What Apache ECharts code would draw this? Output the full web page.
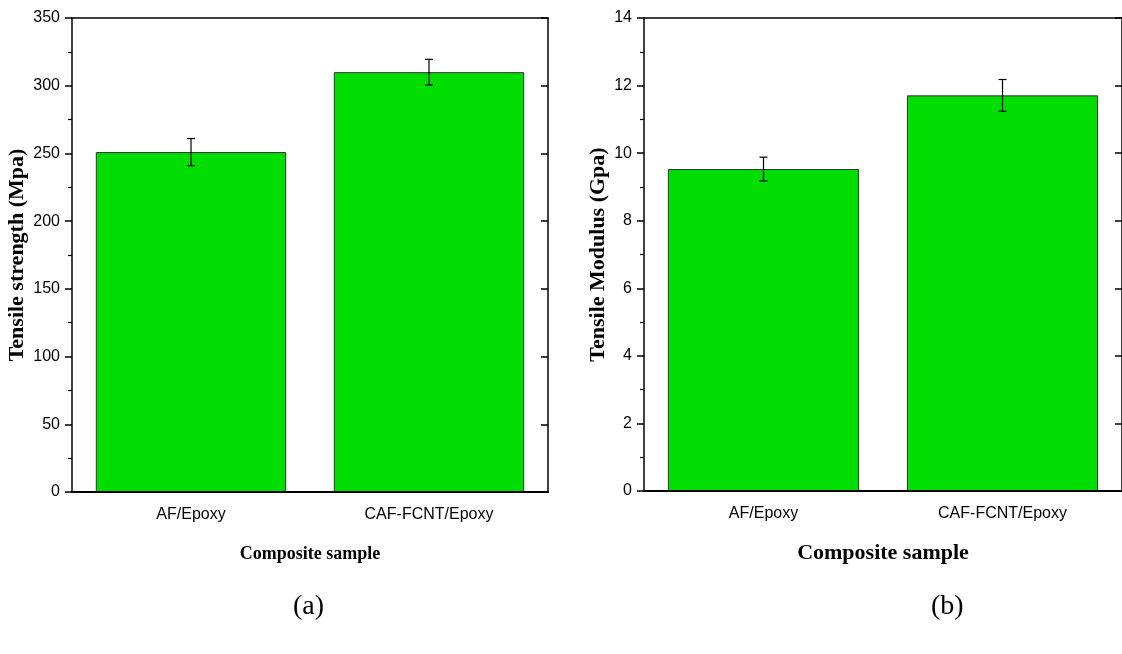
<!DOCTYPE html>
<html>
<head>
<meta charset="utf-8">
<script src="https://cdn.jsdelivr.net/npm/echarts@6/dist/echarts.min.js"></script>
<style>
html,body{margin:0;padding:0;background:#fff;}
#c{width:1122px;height:654px;}
</style>
</head>
<body>
<div id="c"></div>
<script>
const categories = ['AF/Epoxy', 'CAF-FCNT/Epoxy'];
const strength = [251, 310];
const strengthErr = [10, 9.5];
const modulus = [9.53, 11.71];
const modulusErr = [0.35, 0.47];
const strengthTicks = [0, 350, 50];
const modulusTicks = [0, 14, 2];

const SANS = 'Liberation Sans, Arial, sans-serif';
const SERIF = 'Liberation Serif, Times New Roman, serif';
const GREEN = '#00DD00';

function errSeries(vals, errs, xi, yi) {
  return {
    type: 'custom', xAxisIndex: xi, yAxisIndex: yi, z: 10,
    data: vals.map((v, i) => [i, v, errs[i]]),
    renderItem: function (params, api) {
      const x = api.value(0), v = api.value(1), e = api.value(2);
      const hi = api.coord([x, v + e]);
      const lo = api.coord([x, v - e]);
      const w = 4;
      const st = { stroke: '#000', lineWidth: 1.2 };
      return { type: 'group', children: [
        { type: 'line', shape: { x1: hi[0], y1: hi[1], x2: lo[0], y2: lo[1] }, style: st },
        { type: 'line', shape: { x1: hi[0] - w, y1: hi[1], x2: hi[0] + w, y2: hi[1] }, style: st },
        { type: 'line', shape: { x1: lo[0] - w, y1: lo[1], x2: lo[0] + w, y2: lo[1] }, style: st }
      ]};
    }
  };
}

function xAxes(gi, nameSize, nameGap) {
  return [
    { gridIndex: gi, type: 'category', data: categories, position: 'bottom',
      axisLine: { lineStyle: { color: '#000', width: 2 } },
      axisTick: { alignWithLabel: true, length: 7, lineStyle: { color: '#000', width: 1.5 } },
      axisLabel: { color: '#000', fontFamily: SANS, fontSize: 16, margin: 15 },
      name: 'Composite sample', nameLocation: 'middle', nameGap: nameGap,
      nameTextStyle: { fontFamily: SERIF, fontWeight: 'bold', fontSize: nameSize, color: '#000' },
      z: 5 },
    { gridIndex: gi, type: 'category', data: categories, position: 'bottom',
      axisLine: { show: false },
      axisTick: { alignWithLabel: false, length: 4, lineStyle: { color: '#000', width: 1.5 } },
      axisLabel: { show: false } },
    { gridIndex: gi, type: 'category', data: categories, position: 'top',
      axisLine: { lineStyle: { color: '#000', width: 1.5 } },
      axisTick: { alignWithLabel: true, inside: true, length: 8, lineStyle: { color: '#000', width: 1.5 } },
      axisLabel: { show: false } }
  ];
}

function yAxes(gi, ticks, name, nameSize, nameGap) {
  return [
    { gridIndex: gi, type: 'value', position: 'left', min: ticks[0], max: ticks[1], interval: ticks[2],
      axisLine: { show: true, lineStyle: { color: '#000', width: 1.5 } },
      axisTick: { show: true, length: 7, lineStyle: { color: '#000', width: 1.5 } },
      minorTick: { show: true, splitNumber: 2, length: 4, lineStyle: { color: '#000', width: 1.2 } },
      splitLine: { show: false },
      axisLabel: { color: '#000', fontFamily: SANS, fontSize: 16, margin: 12 },
      name: name, nameLocation: 'middle', nameGap: nameGap,
      nameTextStyle: { fontFamily: SERIF, fontWeight: 'bold', fontSize: nameSize, color: '#000' } },
    { gridIndex: gi, type: 'value', position: 'right', min: ticks[0], max: ticks[1], interval: ticks[2],
      axisLine: { show: true, lineStyle: { color: '#000', width: 1.5 } },
      axisTick: { show: true, inside: true, length: 7, lineStyle: { color: '#000', width: 1.5 } },
      splitLine: { show: false },
      axisLabel: { show: false } }
  ];
}

const option = {
  animation: false,
  backgroundColor: '#fff',
  grid: [
    { left: 72, top: 18, width: 476, height: 474 },
    { left: 644, top: 18, width: 486, height: 473 }
  ],
  xAxis: [].concat(xAxes(0, 18, 53), xAxes(1, 22, 51)),
  yAxis: [].concat(
    yAxes(0, strengthTicks, 'Tensile strength (Mpa)', 22, 44),
    yAxes(1, modulusTicks, 'Tensile Modulus (Gpa)', 22, 35)
  ),
  series: [
    { type: 'bar', xAxisIndex: 0, yAxisIndex: 0, data: strength, barWidth: '80%',
      itemStyle: { color: GREEN, borderColor: '#333', borderWidth: 1 } },
    errSeries(strength, strengthErr, 0, 0),
    { type: 'bar', xAxisIndex: 3, yAxisIndex: 2, data: modulus, barWidth: '80%',
      itemStyle: { color: GREEN, borderColor: '#333', borderWidth: 1 } },
    errSeries(modulus, modulusErr, 3, 2)
  ],
  graphic: [
    { type: 'text', left: 310 - 17, top: 593, style: { text: '(a)', font: '28px ' + SERIF, fill: '#000' } },
    { type: 'text', left: 948 - 17, top: 593, style: { text: '(b)', font: '28px ' + SERIF, fill: '#000' } }
  ]
};

const chart = echarts.init(document.getElementById('c'), null, { renderer: 'canvas' });
chart.setOption(option);
</script>
</body>
</html>
